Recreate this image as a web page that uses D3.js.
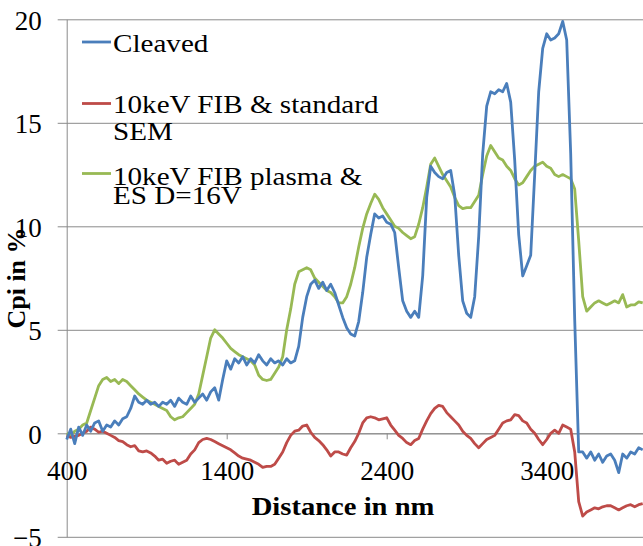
<!DOCTYPE html>
<html>
<head>
<meta charset="utf-8">
<script src="https://cdn.jsdelivr.net/npm/d3@7"></script>
<style>
  body { margin: 0; background: #fff; }
  svg { display: block; font-family: "Liberation Serif", "Times New Roman", serif; }
</style>
</head>
<body>
<div id="chart"></div>
<script>
// Data (distance in nm, Cpi in %)
var distances = [400, 425, 450, 475, 500, 525, 550, 575, 600, 625, 650, 675, 700, 725, 750, 775, 800, 825, 850, 875,
  900, 925, 950, 975, 1000, 1025, 1050, 1075, 1100, 1125, 1150, 1175, 1200, 1225, 1250, 1275, 1300, 1325, 1350, 1375,
  1400, 1425, 1450, 1475, 1500, 1525, 1550, 1575, 1600, 1625, 1650, 1675, 1700, 1725, 1750, 1775, 1800, 1825, 1850, 1875,
  1900, 1925, 1950, 1975, 2000, 2025, 2050, 2075, 2100, 2125, 2150, 2175, 2200, 2225, 2250, 2275, 2300, 2325, 2350, 2375,
  2400, 2425, 2450, 2475, 2500, 2525, 2550, 2575, 2600, 2625, 2650, 2675, 2700, 2725, 2750, 2775, 2800, 2825, 2850, 2875,
  2900, 2925, 2950, 2975, 3000, 3025, 3050, 3075, 3100, 3125, 3150, 3175, 3200, 3225, 3250, 3275, 3300, 3325, 3350, 3375,
  3400, 3425, 3450, 3475, 3500, 3525, 3550, 3575, 3600, 3625, 3650, 3675, 3700, 3725, 3750, 3775, 3800, 3825, 3850, 3875,
  3900, 3925, 3950, 3975, 4000];

var cleaved = [-0.3, 0.2, -0.5, 0.3, -0.1, 0.4, 0.1, 0.5, 0.6, 0.1, 0.4, 0.3, 0.6, 0.4, 0.7, 0.8, 1.2, 1.8, 1.5, 1.4,
  1.6, 1.4, 1.5, 1.3, 1.5, 1.4, 1.6, 1.3, 1.7, 1.5, 1.4, 1.8, 1.5, 1.7, 1.9, 1.6, 2.0, 2.2, 1.6, 2.6,
  3.5, 3.1, 3.6, 3.4, 3.7, 3.3, 3.6, 3.4, 3.8, 3.5, 3.3, 3.6, 3.4, 3.5, 3.3, 3.6, 3.4, 3.5, 4.2, 5.6,
  6.6, 7.2, 7.4, 7.0, 7.3, 6.9, 7.2, 6.8, 6.2, 5.6, 5.1, 4.8, 4.7, 5.4, 6.8, 8.5, 9.6, 10.6, 10.4, 10.5,
  10.2, 10.1, 9.7, 8.0, 6.4, 5.9, 5.6, 5.9, 5.6, 7.6, 11.4, 12.9, 12.6, 12.4, 12.3, 12.6, 12.7, 11.5, 8.6, 6.4,
  5.8, 5.6, 6.6, 9.5, 13.5, 15.8, 16.5, 16.4, 16.6, 16.5, 16.9, 16.0, 13.2, 9.6, 7.6, 8.1, 8.6, 12.5, 16.5, 18.6,
  19.3, 19.0, 19.1, 19.3, 19.9, 19.0, 13.5, 5.5, -0.9, -0.9, -1.2, -0.9, -1.3, -1.0, -1.4, -1.1, -1.0, -1.3, -1.9, -1.0,
  -1.2, -0.9, -1.0, -0.7, -0.8];

var fibStandard = [-0.1, -0.2, -0.15, -0.1, 0.0, 0.1, 0.3, 0.2, 0.05, 0.1, 0.0, -0.1, -0.2, -0.35, -0.4, -0.55, -0.65, -0.6, -0.85, -0.9,
  -0.85, -0.95, -1.1, -1.3, -1.25, -1.45, -1.35, -1.3, -1.5, -1.4, -1.3, -1.0, -0.8, -0.45, -0.3, -0.25, -0.3, -0.4, -0.5, -0.6,
  -0.7, -0.8, -0.95, -1.1, -1.2, -1.25, -1.3, -1.4, -1.5, -1.65, -1.6, -1.6, -1.5, -1.2, -0.9, -0.45, -0.1, 0.1, 0.15, 0.35,
  0.4, 0.05, -0.2, -0.35, -0.55, -0.8, -1.1, -0.9, -0.9, -1.0, -1.05, -0.7, -0.4, 0.0, 0.5, 0.75, 0.8, 0.75, 0.65, 0.7,
  0.75, 0.4, 0.15, -0.1, -0.25, -0.45, -0.55, -0.35, -0.25, 0.2, 0.6, 0.95, 1.2, 1.35, 1.3, 1.0, 0.8, 0.6, 0.4, 0.1,
  -0.1, -0.25, -0.5, -0.7, -0.5, -0.3, -0.2, -0.1, 0.2, 0.5, 0.6, 0.65, 0.9, 0.85, 0.6, 0.5, 0.2, 0.0, -0.3, -0.55,
  -0.3, 0.0, 0.15, 0.0, 0.4, 0.3, 0.2, -0.9, -3.3, -4.0, -3.8, -3.7, -3.6, -3.65, -3.55, -3.5, -3.5, -3.6, -3.7, -3.6,
  -3.5, -3.45, -3.55, -3.45, -3.4];

var fibPlasma = [0.0, -0.1, 0.1, 0.2, 0.4, 0.5, 1.1, 1.7, 2.3, 2.6, 2.7, 2.5, 2.6, 2.4, 2.6, 2.5, 2.3, 2.1, 1.9, 1.75,
  1.6, 1.5, 1.4, 1.3, 1.2, 1.1, 0.8, 0.65, 0.75, 0.8, 1.0, 1.2, 1.4, 1.9, 2.8, 3.7, 4.6, 5.0, 4.8, 4.6,
  4.35, 4.1, 3.95, 3.8, 3.7, 3.6, 3.5, 3.3, 2.8, 2.6, 2.55, 2.6, 2.9, 3.2, 3.7, 5.0, 6.0, 7.2, 7.8, 7.9,
  8.0, 7.9, 7.5, 7.3, 7.1, 6.9, 6.8, 6.6, 6.3, 6.3, 6.6, 7.2, 8.0, 9.0, 9.9, 10.6, 11.1, 11.55, 11.3, 10.9,
  10.6, 10.3, 10.0, 9.9, 9.7, 9.55, 9.4, 9.5, 10.1, 10.9, 11.9, 13.0, 13.3, 12.9, 12.5, 12.2, 11.9, 11.4, 11.0, 10.85,
  10.9, 10.9, 11.2, 11.5, 12.5, 13.4, 13.9, 13.6, 13.3, 13.2, 12.9, 12.7, 12.3, 12.0, 12.1, 12.4, 12.7, 12.9, 13.0, 13.1,
  12.9, 12.8, 12.5, 12.4, 12.5, 12.4, 12.3, 11.8, 9.3, 6.6, 5.9, 6.1, 6.3, 6.4, 6.3, 6.2, 6.3, 6.4, 6.3, 6.7,
  6.1, 6.2, 6.2, 6.35, 6.3];

var xTicks = [400, 1400, 2400, 3400];
var yTicks = [-5, 0, 5, 10, 15, 20];

var seriesNames = [["Cleaved"], ["10keV FIB & standard", "SEM"], ["10keV FIB plasma &", "ES D=16V"]];
var seriesColors = ["#4a7ebb", "#be4b48", "#98b954"];

// Set up chart:
var svgWidth = 643;
var svgHeight = 546;
var plotLeft = 66.7;
var gridColor = "#8a8a8a";

var svg = d3.select("#chart")
  .append("svg")
  .attr("width", svgWidth)
  .attr("height", svgHeight);

// Scales (plot runs off the right edge of the picture)
var xScale = d3.scaleLinear()
  .domain([400, 4000])
  .range([plotLeft, 642.7]);

var yScale = d3.scaleLinear()
  .domain([-5, 20])
  .range([536.8, 19.3]);

// Y axis with horizontal gridlines
var yAxis = svg.append("g")
  .attr("transform", `translate(${plotLeft}, 0)`)
  .call(d3.axisLeft(yScale)
    .tickValues(yTicks)
    .tickSizeInner(-(svgWidth - plotLeft))
    .tickSizeOuter(0)
    .tickPadding(25));

yAxis.selectAll(".tick line")
  .attr("x1", -9)
  .attr("stroke", gridColor);
yAxis.select(".domain").attr("stroke", gridColor);
yAxis.selectAll(".tick text")
  .attr("font-family", "Liberation Serif")
  .attr("font-size", 27)
  .attr("fill", "#000")
  .attr("dy", "0.36em");

// X axis along zero
var xAxis = svg.append("g")
  .attr("transform", `translate(0, ${yScale(0)})`)
  .call(d3.axisBottom(xScale)
    .tickValues(xTicks)
    .tickSizeInner(6)
    .tickSizeOuter(0)
    .tickPadding(22)
    .tickFormat(d3.format("d")));

xAxis.selectAll(".tick line").attr("stroke", gridColor);
xAxis.select(".domain").attr("stroke", gridColor);
xAxis.selectAll(".tick text")
  .attr("font-family", "Liberation Serif")
  .attr("font-size", 27)
  .attr("fill", "#000");

// Lines
var line = d3.line()
  .x((d, i) => xScale(distances[i]))
  .y(d => yScale(d));

var drawOrder = [[fibPlasma, 2], [fibStandard, 1], [cleaved, 0]];
drawOrder.forEach(function(s) {
  svg.append("path")
    .datum(s[0])
    .attr("fill", "none")
    .attr("stroke", seriesColors[s[1]])
    .attr("stroke-width", 2.8)
    .attr("stroke-linejoin", "round")
    .attr("d", line);
});

// Legend
var legendY = [42, 103.5, 173.5];
var legendBase = [[52], [113, 140], [185, 204]];

seriesNames.forEach(function(name, i) {
  svg.append("line")
    .attr("x1", 82)
    .attr("x2", 111)
    .attr("y1", legendY[i])
    .attr("y2", legendY[i])
    .attr("stroke", seriesColors[i])
    .attr("stroke-width", 2.8);

  name.forEach(function(txt, j) {
    svg.append("text")
      .attr("transform", `translate(113, ${legendBase[i][j]}) scale(1.12, 1)`)
      .attr("font-family", "Liberation Serif")
      .attr("font-size", 26)
      .attr("fill", "#000")
      .text(txt);
  });
});

// Axis titles
svg.append("text")
  .attr("transform", "translate(343, 515) scale(1.1, 1)")
  .attr("text-anchor", "middle")
  .attr("font-family", "Liberation Serif")
  .attr("font-size", 26)
  .attr("font-weight", "bold")
  .text("Distance in nm");

svg.append("text")
  .attr("transform", "rotate(-90)")
  .attr("x", -278)
  .attr("y", 25)
  .attr("text-anchor", "middle")
  .attr("font-family", "Liberation Serif")
  .attr("font-size", 26)
  .attr("font-weight", "bold")
  .text("Cpi in %");
</script>
</body>
</html>
